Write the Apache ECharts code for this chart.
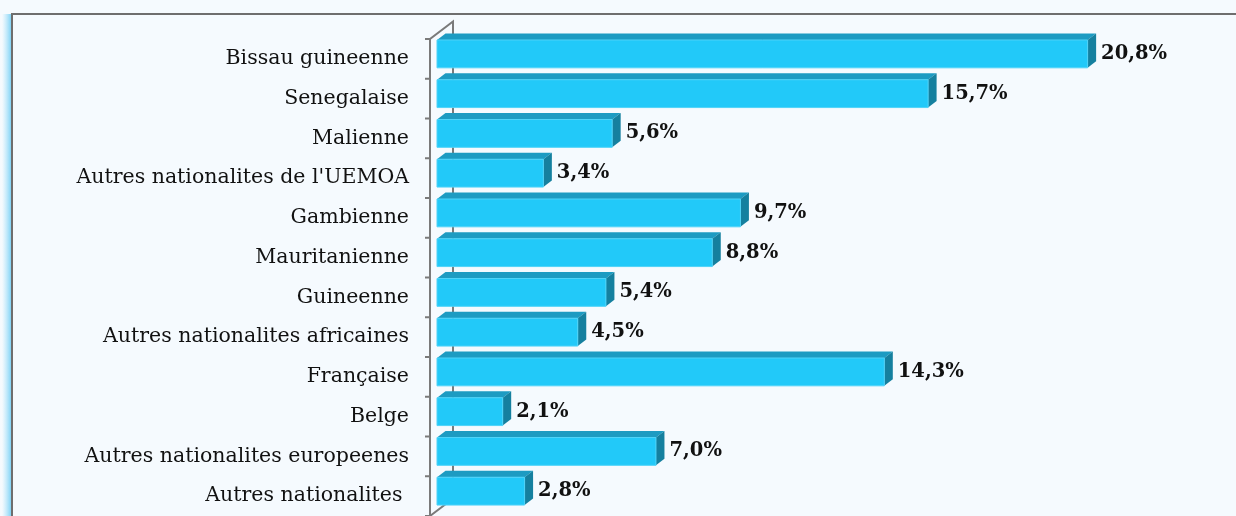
<!DOCTYPE html>
<html>
<head>
    <meta http-equiv="Content-Type" content="text/html; charset=utf-8"/>
    <title>Nationalites</title>
    <script src="https://cdn.jsdelivr.net/npm/echarts@6/dist/echarts.min.js"></script>
    <style>
        html, body { margin: 0; padding: 0; background: #f5fafe; }
    </style>
</head>
<body>
<div id="main" style="width: 1236px;height:516px;"></div>
<script type="text/javascript">
    // categories, top to bottom
    var categories = ['Bissau guineenne', 'Senegalaise', 'Malienne', "Autres nationalites de l'UEMOA",
        'Gambienne', 'Mauritanienne', 'Guineenne', 'Autres nationalites africaines',
        'Française', 'Belge', 'Autres nationalites europeenes', 'Autres nationalites '];
    // share in %
    var values = [20.8, 15.7, 5.6, 3.4, 9.7, 8.8, 5.4, 4.5, 14.3, 2.1, 7.0, 2.8];
    var labels = ['20,8%', '15,7%', '5,6%', '3,4%', '9,7%', '8,8%', '5,4%', '4,5%', '14,3%', '2,1%', '7,0%', '2,8%'];

    var myChart = echarts.init(document.getElementById('main'));

    var barData = values.map(function (v, i) {
        return [v, categories[i], labels[i]];
    });

    // bar drawn as a little 3D box: front face, top face, right face
    function renderBar(params, api) {
        var p0 = api.coord([0, api.value(1)]);
        var p1 = api.coord([api.value(0), api.value(1)]);
        var band = api.size([0, 1])[1];
        var top = p0[1] - band * 0.475;
        var h = band * 0.7;
        var dx = 8.5, dy = 6.5;
        var x0 = p0[0], x1 = p1[0];
        return {
            type: 'group',
            children: [
                {
                    type: 'polygon',
                    shape: {points: [[x0, top], [x1, top], [x1 + dx, top - dy], [x0 + dx, top - dy]]},
                    style: {fill: '#1d9bc2'}
                },
                {
                    type: 'polygon',
                    shape: {points: [[x1, top], [x1 + dx, top - dy], [x1 + dx, top + h - dy], [x1, top + h]]},
                    style: {fill: '#15809f'}
                },
                {
                    type: 'rect',
                    shape: {x: x0, y: top, width: x1 - x0, height: h},
                    style: {fill: '#22c9f9', stroke: '#4fd3f8', lineWidth: 1}
                },
                {
                    type: 'text',
                    x: x1 + dx + 5,
                    y: top + h / 2,
                    style: {
                        text: api.value(2),
                        fill: '#111',
                        font: 'bold 19.5px "DejaVu Serif"',
                        verticalAlign: 'middle',
                        align: 'left'
                    }
                }
            ]
        };
    }

    // front axis with ticks, and back wall edge of the 3D frame
    function renderWall(params, api) {
        var pTop = api.coord([0, categories[0]]);
        var pBot = api.coord([0, categories[categories.length - 1]]);
        var band = api.size([0, 1])[1];
        var fx = pTop[0] - 7;
        var y0 = pTop[1] - band / 2, y1 = pBot[1] + band / 2;
        var dx = 23, dy = 17.5;
        var line = {stroke: '#7a7a7a', lineWidth: 2, fill: null};
        var children = [
            {
                type: 'polyline',
                shape: {points: [[fx, y1], [fx, y0], [fx + dx, y0 - dy], [fx + dx, y1 - dy], [fx, y1]]},
                style: line
            }
        ];
        for (var i = 0; i <= categories.length; i++) {
            var ty = y0 + i * band;
            children.push({
                type: 'line',
                shape: {x1: fx - 5, y1: ty, x2: fx, y2: ty},
                style: line
            });
        }
        return {type: 'group', children: children};
    }

    myChart.setOption({
        backgroundColor: '#f5fafe',
        animation: false,
        graphic: [
            {
                // light blue glow on the left of the frame
                type: 'rect',
                left: 2,
                top: 14,
                shape: {width: 9, height: 510},
                style: {
                    fill: new echarts.graphic.LinearGradient(0, 0, 1, 0, [
                        {offset: 0, color: 'rgba(150,220,248,0)'},
                        {offset: 1, color: 'rgba(110,205,245,0.85)'}
                    ])
                },
                z: -11
            },
            {
                type: 'rect',
                left: 11,
                top: 13,
                shape: {width: 1240, height: 520},
                style: {fill: '#f5fafe', stroke: '#6e6e6e', lineWidth: 2},
                z: -10
            }
        ],
        grid: {
            left: 437,
            top: 39,
            width: 782,
            height: 480
        },
        xAxis: {
            type: 'value',
            min: 0,
            max: 25,
            show: false
        },
        yAxis: {
            type: 'category',
            inverse: true,
            data: categories,
            axisLine: {show: false},
            axisTick: {show: false},
            axisLabel: {
                margin: 28,
                color: '#111',
                fontFamily: 'DejaVu Serif',
                fontSize: 20.5
            }
        },
        series: [
            {
                type: 'custom',
                renderItem: renderWall,
                data: [[0, categories[0]]],
                encode: {x: 0, y: 1},
                z: 1,
                silent: true
            },
            {
                name: 'Nationalite',
                type: 'custom',
                renderItem: renderBar,
                data: barData,
                encode: {x: 0, y: 1},
                z: 2
            }
        ]
    });
</script>
</body>
</html>
